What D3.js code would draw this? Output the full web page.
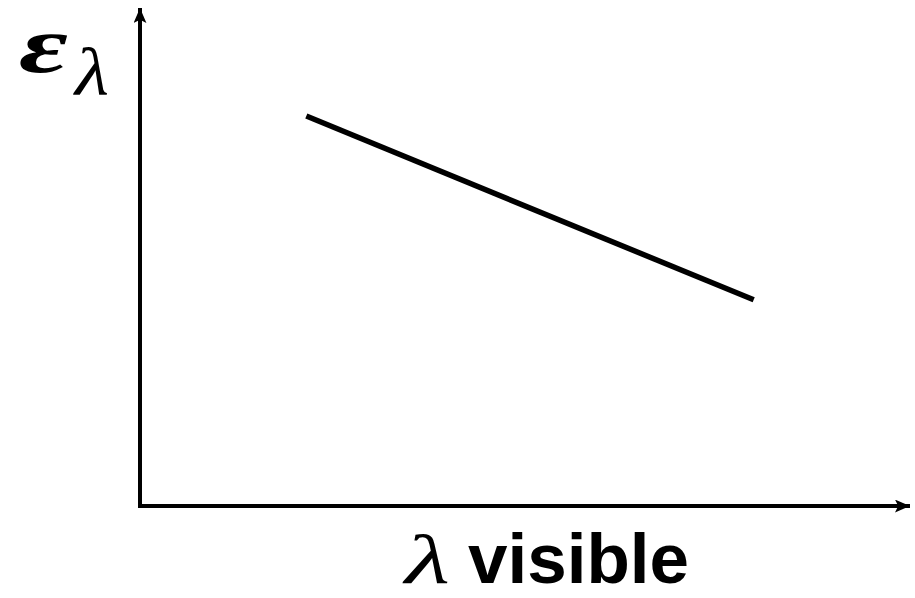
<!DOCTYPE html>
<html><head><meta charset="utf-8">
<script src="https://cdn.jsdelivr.net/npm/d3@7"></script>
<style>body{margin:0;background:#fff}</style>
</head><body>
<svg id="c" width="915" height="598"></svg>
<script>
const lineX = [2.16, 7.97];
const lineY = [7.83, 4.14];
const xDomain = [0, 10];
const yDomain = [0, 10];

const svg = d3.select("#c");
const x = d3.scaleLinear().domain(xDomain).range([140, 910]);
const y = d3.scaleLinear().domain(yDomain).range([506, 8]);

const defs = svg.append("defs");
defs.append("marker").attr("id","arr").attr("viewBox","0 0 14 12")
  .attr("refX",14).attr("refY",6).attr("markerWidth",15).attr("markerHeight",13)
  .attr("markerUnits","userSpaceOnUse").attr("orient","auto")
  .append("path").attr("d","M0,0 L14,6 L0,12 L3,6 Z").attr("fill","#000");

svg.append("line").attr("x1", x(0)).attr("y1", y(0)+2).attr("x2", x(0)).attr("y2", y(10))
  .attr("stroke","#000").attr("stroke-width",4).attr("marker-end","url(#arr)");
svg.append("line").attr("x1", x(0)-2).attr("y1", y(0)).attr("x2", x(10)).attr("y2", y(0))
  .attr("stroke","#000").attr("stroke-width",4).attr("marker-end","url(#arr)");

const pts = lineX.map((v,i)=>[v, lineY[i]]);
svg.append("path").datum(pts)
  .attr("d", d3.line().x(d=>x(d[0])).y(d=>y(d[1])))
  .attr("fill","none").attr("stroke","#000").attr("stroke-width",5.5);

// y label
svg.append("text").attr("x",19).attr("y",72)
  .attr("font-family","Liberation Serif").attr("font-style","italic").attr("font-weight","bold")
  .attr("font-size",80).attr("textLength",49).attr("lengthAdjust","spacingAndGlyphs").text("ε");
svg.append("text").attr("x",75).attr("y",95)
  .attr("font-family","Liberation Serif").attr("font-style","italic")
  .attr("font-size",68).attr("textLength",34).attr("lengthAdjust","spacingAndGlyphs").text("λ");

// x label
svg.append("text").attr("x",405).attr("y",583)
  .attr("font-family","Liberation Serif").attr("font-style","italic")
  .attr("font-size",70).attr("textLength",45).attr("lengthAdjust","spacingAndGlyphs").text("λ");
svg.append("text").attr("x",468).attr("y",583)
  .attr("font-family","Liberation Sans").attr("font-weight","bold")
  .attr("font-size",71).text("visible");
</script>
</body></html>
